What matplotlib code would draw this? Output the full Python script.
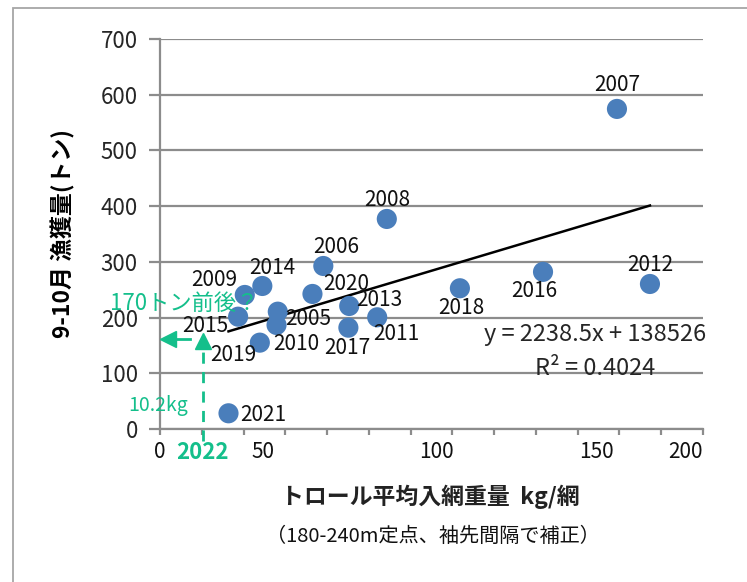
import matplotlib
matplotlib.use("Agg")
import matplotlib.pyplot as plt
from matplotlib.patches import Rectangle
import matplotlib.transforms as mtransforms

plt.rcParams['font.family'] = ['Noto Sans CJK JP', 'DejaVu Sans']

# Trawl mean catch per net (kg/net) vs. Sep-Oct landings (t), by year
years = ["2005", "2006", "2007", "2008", "2009", "2010", "2011", "2012", "2013",
         "2014", "2015", "2016", "2017", "2018", "2019", "2020", "2021"]
kg_per_net = [28.2, 39.1, 109.4, 54.3, 20.3, 27.9, 52.0, 117.3, 45.3,
              24.5, 18.7, 91.7, 45.1, 71.8, 23.9, 36.5, 16.4]
catch_t = [210.6, 292.6, 574.5, 377.0, 240.6, 186.7, 200.5, 260.3, 220.8,
           256.7, 201.6, 282.0, 181.9, 252.6, 155.0, 242.4, 28.2]

# Linear trend as stated in the label (kg units): y = 2238.5x + 138526
slope_kg = 2238.5
intercept_kg = 138526
r_squared = 0.4024

# 2022 forecast input
x_2022 = 10.2

x_tick_text = ["0", "50", "100", "150", "200"]

# Year-label offsets (points) relative to each marker
label_offsets = {
    "2005": (22, -5), "2006": (9, 14), "2007": (0, 17), "2008": (0, 14),
    "2009": (-22, 11), "2010": (14, -14), "2011": (14, -12), "2012": (0, 14),
    "2013": (22, 4), "2014": (7, 13), "2015": (-24, -7), "2016": (-6, -14),
    "2017": (-1, -15), "2018": (1, -14), "2019": (-19, -9), "2020": (24, 7),
    "2021": (25, -1),
}
x_tick_text_pos = [0, 24.7, 66.3, 104.6, 125.9]

green = '#14BF8B'
grey = '#8C8C8C'
blue = '#4A7EBB'

fig = plt.figure(figsize=(7.47, 5.82), dpi=100)
fig.patches.append(Rectangle((13 / 747, -0.2), 1.2, 1.2 - 8 / 582,
                             transform=fig.transFigure, fill=False,
                             edgecolor='#A6A6A6', lw=1.3))
ax = fig.add_axes([160 / 747, 153 / 582, 543 / 747, 390 / 582])

ax.set_xlim(0, 130)
ax.set_ylim(0, 700)
ax.set_yticks(range(0, 701, 100))
ax.set_xticks(range(0, 131, 10))
ax.set_xticklabels([])
ax.yaxis.grid(True, color=grey, lw=1.6)
ax.set_axisbelow(True)
for s in ['top', 'right']:
    ax.spines[s].set_visible(False)
for s in ['left', 'bottom']:
    ax.spines[s].set_color(grey)
    ax.spines[s].set_linewidth(1.6)
ax.tick_params(axis='y', length=8, width=1.6, color=grey, pad=8,
               labelsize=16, labelcolor='#262626')
ax.tick_params(axis='x', length=4, width=1.6, color=grey)

# x tick text
trans = mtransforms.blended_transform_factory(ax.transData, ax.transAxes)
for t, p in zip(x_tick_text, x_tick_text_pos):
    ax.text(p, -0.03, t, transform=trans, ha='center', va='top', fontsize=15,
            color='#111111')
ax.text(x_2022, -0.03, "2022", transform=trans, ha='center', va='top',
        fontsize=16, color=green, fontweight='bold')

# trend line across the data range
xmin, xmax = min(kg_per_net), max(kg_per_net)
ax.plot([xmin, xmax],
        [(slope_kg * xmin + intercept_kg) / 1000, (slope_kg * xmax + intercept_kg) / 1000],
        color='black', lw=1.8, zorder=2)

ax.scatter(kg_per_net, catch_t, s=210, color=blue, edgecolors='none', zorder=3)
for yr, xv, yv in zip(years, kg_per_net, catch_t):
    dx, dy = label_offsets[yr]
    ax.annotate(yr, (xv, yv), xytext=(dx, dy), textcoords='offset points',
                ha='center', va='center', fontsize=15, color='#111111', zorder=4)

ax.text(104.1, 170, f"y = {slope_kg}x + {intercept_kg}", ha='center', va='center',
        fontsize=17, color='#262626')
ax.text(104.1, 109, f"R² = {r_squared}", ha='center', va='center',
        fontsize=17, color='#262626')

# 2022 forecast arrows
y_2022 = (slope_kg * x_2022 + intercept_kg) / 1000
ax.plot([x_2022, x_2022], [-22, y_2022 - 18], ls=(0, (4, 3)), color=green, lw=2,
        clip_on=False, zorder=5)
ax.plot([x_2022], [y_2022 - 4], marker='^', ms=11, color=green, clip_on=False, zorder=5)
ax.plot([x_2022 - 3, x_2022 - 6.5], [y_2022, y_2022], color=green, lw=2,
        clip_on=False, zorder=5)
ax.plot([1.8], [y_2022], marker='<', ms=11, color=green, clip_on=False, zorder=5)

ax.text(-12, 225, "170トン前後？", ha='left', va='center', fontsize=16,
        color=green, clip_on=False)
ax.text(-7.5, 42, "10.2kg", ha='left', va='center', fontsize=14,
        color=green, clip_on=False)

ax.set_ylabel("9-10月 漁獲量(トン)", fontsize=16.5, fontweight='bold', labelpad=18)

fig.text(430 / 747, 1 - 497 / 582, "トロール平均入網重量  kg/網", ha='center',
         va='center', fontsize=16.5, fontweight='bold', color='#222222')
fig.text(433 / 747, 1 - 536 / 582, "（180-240m定点、袖先間隔で補正）", ha='center',
         va='center', fontsize=14.5, color='#111111')

fig.savefig("out.png", dpi=100)
